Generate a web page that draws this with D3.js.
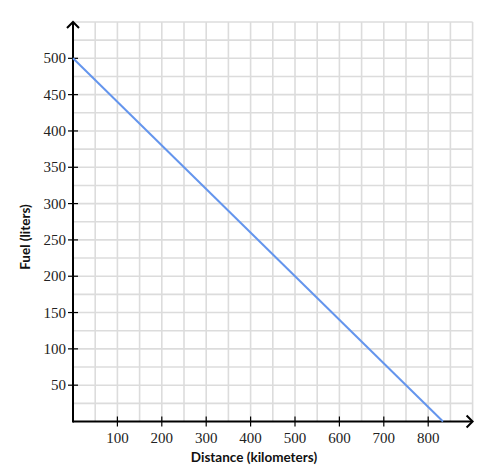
<!DOCTYPE html>
<html><head><meta charset="utf-8">
<script src="https://cdn.jsdelivr.net/npm/d3@7"></script>
<style>body{margin:0;background:#fff}</style>
</head><body>
<svg id="c" width="502" height="472"></svg>
<script>
const xTicks = [100,200,300,400,500,600,700,800];
const yTicks = [50,100,150,200,250,300,350,400,450,500];
const distance = [0, 833.33];
const fuel = [500, 0];
const xTitle = "Distance (kilometers)";
const yTitle = "Fuel (liters)";

const svg = d3.select("#c");
const x = d3.scaleLinear().domain([0,900]).range([73,472.6]);
const y = d3.scaleLinear().domain([0,550]).range([421.5,22]);

const g = svg.append("g");
d3.range(50,901,50).forEach(v=>{
  g.append("line").attr("x1",x(v)).attr("x2",x(v)).attr("y1",y(0)).attr("y2",y(550))
   .attr("stroke","#dcdcdc").attr("stroke-width",1.6);
});
d3.range(25,551,25).forEach(v=>{
  g.append("line").attr("x1",x(0)).attr("x2",x(900)).attr("y1",y(v)).attr("y2",y(v))
   .attr("stroke","#dcdcdc").attr("stroke-width",1.6);
});

const ax = svg.append("g");
ax.append("line").attr("x1",x(0)).attr("x2",x(900)-1).attr("y1",y(0)).attr("y2",y(0)).attr("stroke","#000").attr("stroke-width",2);
ax.append("line").attr("x1",x(0)).attr("x2",x(0)).attr("y1",y(0)+1).attr("y2",y(550)+1).attr("stroke","#000").attr("stroke-width",2);
ax.append("path").attr("d",`M${x(900)-6},${y(0)-6} L${x(900)},${y(0)} L${x(900)-6},${y(0)+6}`).attr("fill","none").attr("stroke","#000").attr("stroke-width",2);
ax.append("path").attr("d",`M${x(0)-6},${y(550)+6} L${x(0)},${y(550)} L${x(0)+6},${y(550)+6}`).attr("fill","none").attr("stroke","#000").attr("stroke-width",2);

xTicks.forEach(v=>{
  ax.append("line").attr("x1",x(v)).attr("x2",x(v)).attr("y1",y(0)-5).attr("y2",y(0)+5).attr("stroke","#000").attr("stroke-width",1.2);
  ax.append("text").attr("x",x(v)).attr("y",442.5).attr("text-anchor","middle")
   .attr("font-family","'Liberation Serif', serif").attr("font-size",15).attr("fill","#222").text(v);
});
yTicks.forEach(v=>{
  ax.append("line").attr("x1",x(0)-5).attr("x2",x(0)+5).attr("y1",y(v)).attr("y2",y(v)).attr("stroke","#000").attr("stroke-width",1.2);
  ax.append("text").attr("x",66).attr("y",y(v)+5).attr("text-anchor","end")
   .attr("font-family","'Liberation Serif', serif").attr("font-size",15).attr("fill","#222").text(v);
});

const line = d3.line().x(d=>x(d[0])).y(d=>y(d[1]));
svg.append("path").datum(distance.map((d,i)=>[d,fuel[i]])).attr("d",line)
  .attr("fill","none").attr("stroke","#6495ed").attr("stroke-width",2);

svg.append("text").attr("x",254).attr("y",462).attr("text-anchor","middle")
  .attr("font-family","Lato, sans-serif").attr("font-weight","bold").attr("font-size",13.5).attr("fill","#111").text(xTitle);
svg.append("text").attr("transform","translate(30,237) rotate(-90)").attr("text-anchor","middle")
  .attr("font-family","Lato, sans-serif").attr("font-weight","bold").attr("font-size",13.5).attr("fill","#111").text(yTitle);
</script>
</body></html>
